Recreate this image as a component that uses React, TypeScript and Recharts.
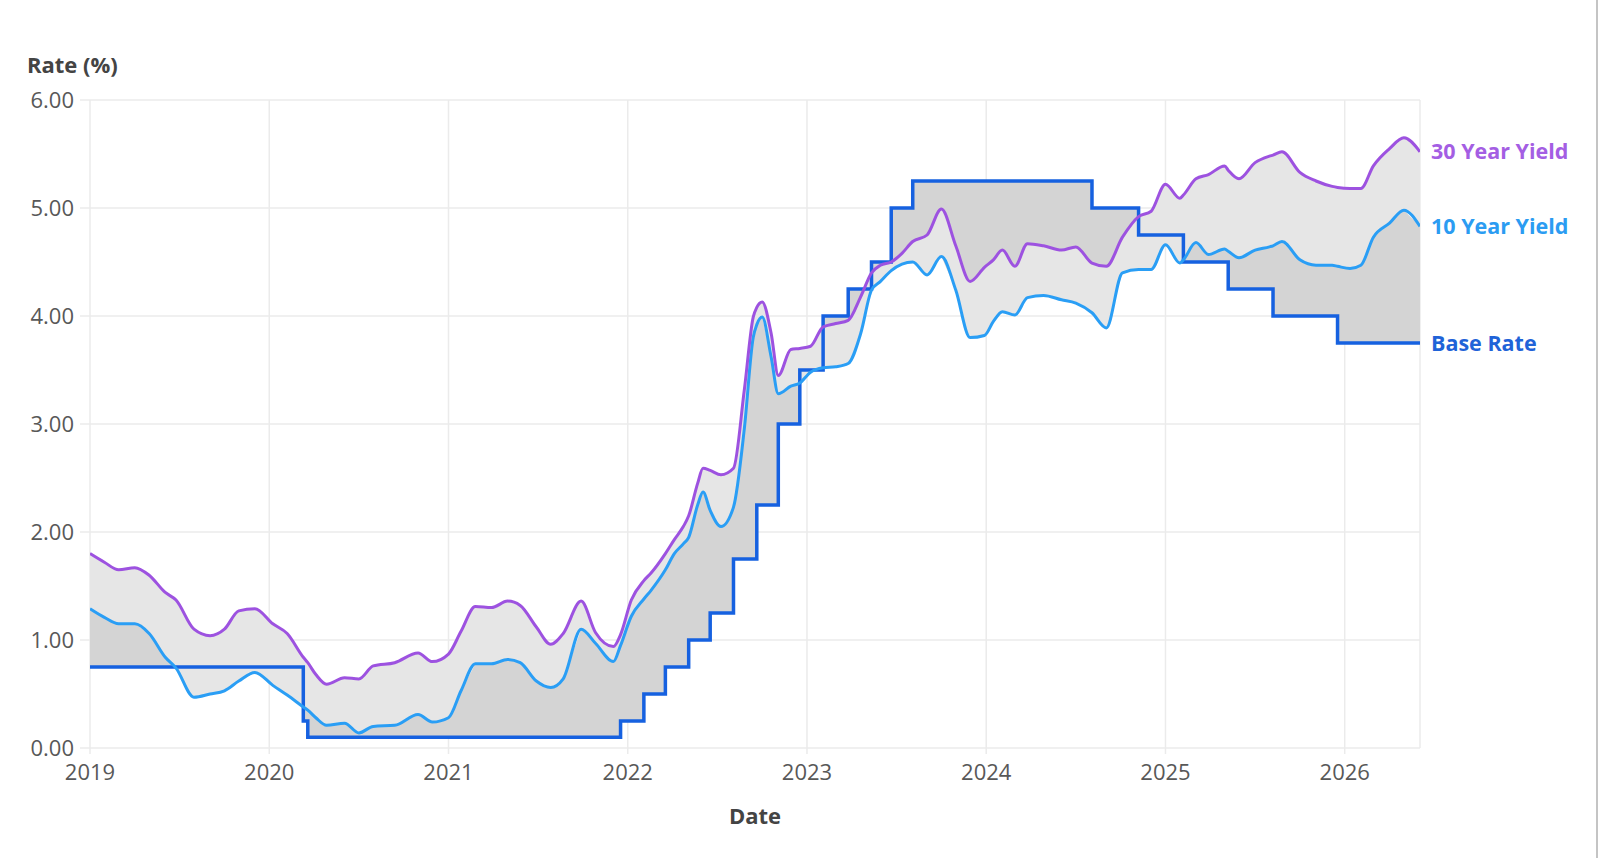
import React from 'react';
import { ComposedChart, Area, Line, XAxis, YAxis, CartesianGrid } from 'recharts';

// ---- data (decimal years) ----
const dates = [
  2019.0, 2019.08, 2019.16, 2019.25, 2019.33, 2019.42, 2019.48, 2019.58, 2019.67, 2019.75,
  2019.83, 2019.92, 2020.02, 2020.1, 2020.19, 2020.215, 2020.26, 2020.32, 2020.42, 2020.5,
  2020.58, 2020.7, 2020.83, 2020.91, 2021.0, 2021.07, 2021.15, 2021.24, 2021.33, 2021.4,
  2021.49, 2021.57, 2021.64, 2021.74, 2021.82, 2021.92, 2021.96, 2022.02, 2022.09, 2022.13,
  2022.21, 2022.26, 2022.31, 2022.34, 2022.39, 2022.42, 2022.46, 2022.52, 2022.59, 2022.65,
  2022.7, 2022.72, 2022.75, 2022.8, 2022.84, 2022.91, 2022.96, 2023.02, 2023.09, 2023.16,
  2023.23, 2023.3, 2023.36, 2023.41, 2023.47, 2023.53, 2023.59, 2023.67, 2023.75, 2023.83,
  2023.91, 2023.99, 2024.04, 2024.09, 2024.16, 2024.23, 2024.32, 2024.42, 2024.5, 2024.59,
  2024.67, 2024.76, 2024.85, 2024.92, 2025.0, 2025.08, 2025.1, 2025.17, 2025.24, 2025.33,
  2025.35, 2025.41, 2025.5, 2025.58, 2025.6, 2025.65, 2025.75, 2025.84, 2025.93, 2025.96,
  2026.03, 2026.09, 2026.16, 2026.25, 2026.33, 2026.42,
];

const yield30 = [
  1.8, 1.72, 1.65, 1.67, 1.6, 1.44, 1.37, 1.1, 1.04, 1.1,
  1.27, 1.29, 1.15, 1.06, 0.84, 0.79, 0.68, 0.59, 0.65, 0.64,
  0.76, 0.79, 0.88, 0.8, 0.87, 1.08, 1.31, 1.3, 1.36, 1.32,
  1.12, 0.96, 1.06, 1.36, 1.07, 0.94, 1.05, 1.37, 1.55, 1.62,
  1.8, 1.93, 2.05, 2.15, 2.45, 2.59, 2.57, 2.53, 2.59, 3.31,
  3.99, 4.08, 4.13, 3.84, 3.45, 3.69, 3.7, 3.72, 3.9, 3.93,
  3.96, 4.18, 4.4, 4.47, 4.5, 4.58, 4.69, 4.75, 4.99, 4.65,
  4.32, 4.45, 4.52, 4.61, 4.46, 4.67, 4.65, 4.61, 4.64, 4.49,
  4.46, 4.73, 4.92, 4.97, 5.22, 5.09, 5.12, 5.27, 5.31, 5.39,
  5.35, 5.27, 5.42, 5.48, 5.49, 5.52, 5.33, 5.25, 5.2, 5.19,
  5.18, 5.18, 5.39, 5.55, 5.65, 5.52,
];

const yield10 = [
  1.29, 1.21, 1.15, 1.15, 1.06, 0.84, 0.74, 0.47, 0.5, 0.53,
  0.62, 0.7, 0.58, 0.49, 0.38, 0.35, 0.28, 0.21, 0.23, 0.14,
  0.2, 0.21, 0.31, 0.24, 0.28, 0.53, 0.78, 0.78, 0.82, 0.79,
  0.62, 0.56, 0.64, 1.1, 0.97, 0.8, 0.95, 1.22, 1.38, 1.46,
  1.65, 1.8, 1.89, 1.95, 2.25, 2.37, 2.2, 2.05, 2.23, 2.95,
  3.8, 3.92, 3.99, 3.62, 3.28, 3.35, 3.38, 3.48, 3.52, 3.53,
  3.56, 3.84, 4.24, 4.32, 4.42, 4.48, 4.5, 4.38, 4.55, 4.24,
  3.8, 3.82, 3.95, 4.04, 4.01, 4.17, 4.19, 4.15, 4.12, 4.03,
  3.89, 4.4, 4.43, 4.43, 4.66, 4.49, 4.52, 4.68, 4.57, 4.62,
  4.6, 4.54, 4.61, 4.64, 4.65, 4.69, 4.52, 4.47, 4.47, 4.46,
  4.44, 4.47, 4.73, 4.86, 4.98, 4.83,
];

const baseChangeDates = [
  2019.0, 2020.19, 2020.215, 2021.96, 2022.09, 2022.21, 2022.34, 2022.46, 2022.59, 2022.72,
  2022.84, 2022.96, 2023.09, 2023.23, 2023.36, 2023.47, 2023.59, 2024.59, 2024.85, 2025.1,
  2025.35, 2025.6, 2025.96,
];
const baseRates = [
  0.75, 0.25, 0.1, 0.25, 0.5, 0.75, 1.0, 1.25, 1.75, 2.25,
  3.0, 3.5, 4.0, 4.25, 4.5, 5.0, 5.25, 5.0, 4.75, 4.5,
  4.25, 4.0, 3.75,
];
const endDate = 2026.42;

const xTicks = [2019, 2020, 2021, 2022, 2023, 2024, 2025, 2026];
const yTicks = [0, 1, 2, 3, 4, 5, 6];

// ---- derived tables ----
const yieldRows = dates.map((d, i) => ({
  date: d,
  y30: yield30[i],
  y10: yield10[i],
  band: [yield10[i], yield30[i]],
}));

const baseRows = [
  ...baseChangeDates.map((d, i) => ({ date: d, base: baseRates[i] })),
  { date: endDate, base: baseRates[baseRates.length - 1] },
];

const baseAt = (d: number) => {
  let r = baseRates[0];
  for (let i = 0; i < baseChangeDates.length; i++) {
    if (baseChangeDates[i] <= d) r = baseRates[i];
  }
  return r;
};

const darkRows: { date: number; range: number[] }[] = [];
dates.forEach((d, i) => {
  const k = baseChangeDates.indexOf(d);
  if (k > 0) {
    darkRows.push({ date: d, range: [baseRates[k - 1], yield10[i]] });
    darkRows.push({ date: d, range: [baseRates[k], yield10[i]] });
  } else {
    darkRows.push({ date: d, range: [baseAt(d), yield10[i]] });
  }
});

const C30 = '#9d52e0';
const C10 = '#2a9ef5';
const CBASE = '#1661e0';
const GRID = '#ebebeb';
const FONT = "'Open Sans', 'Noto Sans', sans-serif";

const endLabel = (text: string, color: string, n: number) => (props: any) => {
  const { x, y, index } = props;
  if (index !== n - 1) return <g />;
  return (
    <text
      x={x + 11}
      y={y}
      dy="0.35em"
      fill={color}
      fontSize={21.5}
      fontWeight={700}
      fontFamily={FONT}
    >
      {text}
    </text>
  );
};

export default function App() {
  return (
    <div style={{ position: 'relative', width: 1592, height: 842, fontFamily: FONT }}>
      <ComposedChart
        width={1592}
        height={842}
        margin={{ top: 92, right: 180, bottom: 72, left: 22 }}
        style={{ fontFamily: FONT }}
      >
        <CartesianGrid stroke={GRID} strokeWidth={1.5} />
        <XAxis
          dataKey="date"
          type="number"
          domain={[2019, endDate]}
          ticks={xTicks}
          allowDataOverflow
          tickFormatter={(v: number) => String(v)}
          axisLine={false}
          tickLine={{ stroke: GRID, strokeWidth: 1.5 }}
          tickSize={6}
          tickMargin={10}
          height={30}
          tick={{ fill: '#585858', fontSize: 22, fontFamily: FONT }}
          label={{
            content: (p: any) => {
              const vb = p.viewBox || { x: 82, y: 740, width: 1330 };
              return (
                <text
                  x={vb.x + vb.width / 2}
                  y={vb.y + 76}
                  textAnchor="middle"
                  fill="#444"
                  fontSize={22}
                  fontWeight={700}
                  fontFamily={FONT}
                >
                  Date
                </text>
              );
            },
          }}
        />
        <YAxis
          type="number"
          domain={[0, 6]}
          ticks={yTicks}
          width={60}
          tickFormatter={(v: number) => v.toFixed(2)}
          axisLine={false}
          tickLine={{ stroke: GRID, strokeWidth: 1.5 }}
          tickSize={10}
          tickMargin={6}
          tick={{ fill: '#585858', fontSize: 22, fontFamily: FONT }}
          label={{
            content: (p: any) => {
              const vb = p.viewBox || { x: 22, y: 92 };
              return (
                <text
                  x={vb.x - 3}
                  y={vb.y - 27}
                  fill="#444"
                  fontSize={22}
                  fontWeight={700}
                  fontFamily={FONT}
                >
                  Rate (%)
                </text>
              );
            },
          }}
        />
        <Area
          data={darkRows}
          dataKey="range"
          type="linear"
          stroke="none"
          fill="#d4d4d4"
          fillOpacity={1}
          isAnimationActive={false}
        />
        <Area
          data={yieldRows}
          dataKey="band"
          type="monotone"
          stroke="none"
          fill="#e6e6e6"
          fillOpacity={1}
          isAnimationActive={false}
        />
        <Line
          data={baseRows}
          dataKey="base"
          type="stepAfter"
          stroke={CBASE}
          strokeWidth={3.5}
          dot={false}
          isAnimationActive={false}
          label={endLabel('Base Rate', '#1f63d8', baseRows.length)}
        />
        <Line
          data={yieldRows}
          dataKey="y10"
          type="monotone"
          stroke={C10}
          strokeWidth={3}
          dot={false}
          isAnimationActive={false}
          label={endLabel('10 Year Yield', '#2b9cf2', yieldRows.length)}
        />
        <Line
          data={yieldRows}
          dataKey="y30"
          type="monotone"
          stroke={C30}
          strokeWidth={3}
          dot={false}
          isAnimationActive={false}
          label={endLabel('30 Year Yield', '#a45ee3', yieldRows.length)}
        />
      </ComposedChart>
      <div
        style={{
          position: 'fixed',
          left: 1596,
          top: 0,
          width: 2,
          height: 858,
          background: '#c4c4c4',
        }}
      />
    </div>
  );
}
